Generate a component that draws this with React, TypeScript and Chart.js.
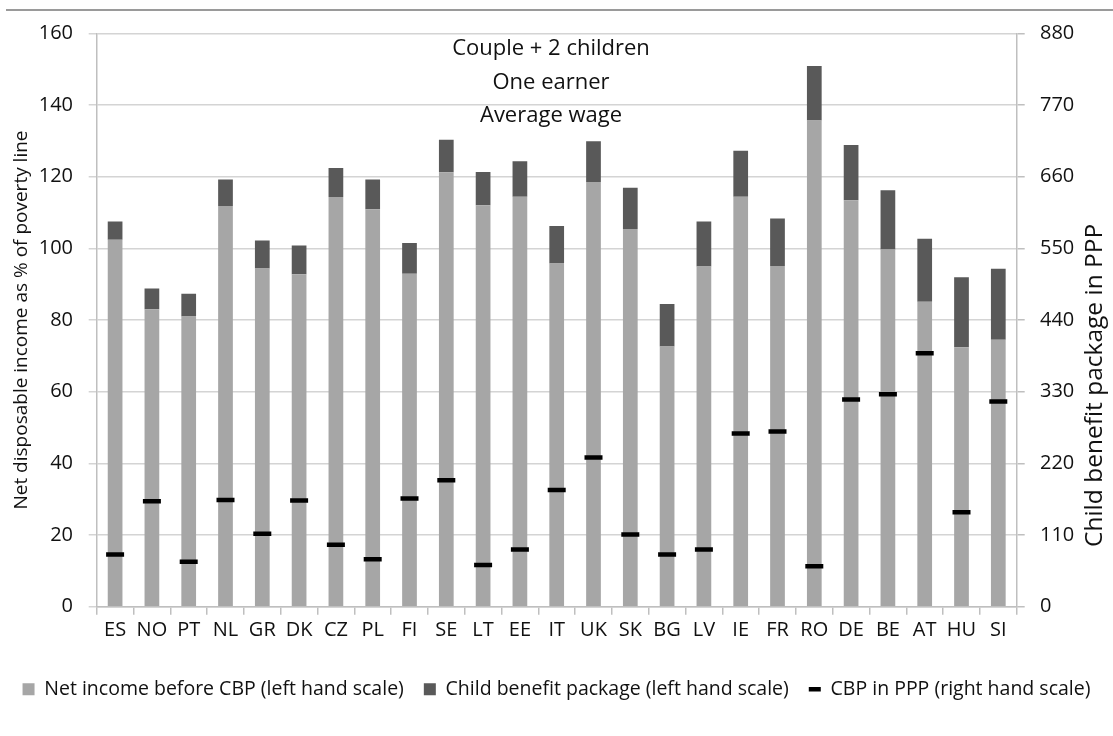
import React, { useEffect, useRef } from "react";
import { Chart, registerables } from "chart.js";

Chart.register(...registerables);

const categories = ["ES", "NO", "PT", "NL", "GR", "DK", "CZ", "PL", "FI", "SE", "LT", "EE", "IT", "UK", "SK", "BG", "LV", "IE", "FR", "RO", "DE", "BE", "AT", "HU", "SI"];
const netIncome = [102.4, 83.0, 81.0, 111.8, 94.4, 92.8, 114.3, 110.9, 92.9, 121.2, 112.0, 114.4, 95.8, 118.5, 105.4, 72.6, 94.9, 114.4, 95.1, 135.7, 113.4, 99.7, 85.1, 72.4, 74.5];
const childBenefit = [5.1, 5.8, 6.3, 7.4, 7.8, 8.0, 8.1, 8.3, 8.6, 9.1, 9.3, 9.9, 10.4, 11.4, 11.5, 11.9, 12.6, 12.8, 13.2, 15.2, 15.4, 16.5, 17.6, 19.5, 19.8];
const cbpPPP = [80, 162, 69, 164, 112, 163, 95, 73, 166, 194, 64, 88, 179, 229, 111, 80, 88, 266, 269, 62, 318, 326, 389, 145, 315];

const seriesLabels = [
  "Net income before CBP (left hand scale)",
  "Child benefit package (left hand scale)",
  "CBP in PPP (right hand scale)",
];
const titleLines = ["Couple + 2 children", "One earner", "Average wage"];
const leftAxisTitle = "Net disposable income as % of poverty line";
const rightAxisTitle = "Child benefit package in PPP";

const FONT = "'Open Sans', 'DejaVu Sans', sans-serif";
const TEXT = "#111111";

const decorPlugin = {
  id: "decor",
  beforeDraw(chart: any) {
    const ctx = chart.ctx;
    ctx.save();
    ctx.strokeStyle = "#9a9a9a";
    ctx.lineWidth = 2;
    ctx.beginPath();
    ctx.moveTo(6, 10);
    ctx.lineTo(chart.width, 10);
    ctx.stroke();
    ctx.restore();
  },
  afterDraw(chart: any) {
    const ctx = chart.ctx;
    const a = chart.chartArea;
    ctx.save();
    ctx.fillStyle = TEXT;
    ctx.textAlign = "center";
    ctx.textBaseline = "alphabetic";
    ctx.font = `22px ${FONT}`;
    const cx = a.left + (a.right - a.left) * 0.4938;
    const offs = [21.7, 55.2, 88.5];
    titleLines.forEach((t, i) => ctx.fillText(t, cx, a.top + offs[i]));

    ctx.textBaseline = "middle";
    ctx.font = `19px ${FONT}`;
    ctx.save();
    ctx.translate(22, (a.top + a.bottom) / 2);
    ctx.rotate(-Math.PI / 2);
    ctx.fillText(leftAxisTitle, 0, 0);
    ctx.restore();

    ctx.font = `24.5px ${FONT}`;
    ctx.save();
    ctx.translate(1095, a.top + (a.bottom - a.top) * 0.614);
    ctx.rotate(-Math.PI / 2);
    ctx.fillText(rightAxisTitle, 0, 0);
    ctx.restore();
    ctx.restore();
  },
};

export default function App() {
  const ref = useRef<HTMLCanvasElement | null>(null);

  useEffect(() => {
    if (!ref.current) return;
    const chart = new Chart(ref.current, {
      type: "bar",
      data: {
        labels: categories,
        datasets: [
          {
            type: "bar",
            label: seriesLabels[0],
            data: netIncome,
            backgroundColor: "#a6a6a6",
            borderWidth: 0,
            yAxisID: "y",
            stack: "s",
            barPercentage: 0.4,
            categoryPercentage: 1,
            pointStyle: "rect",
            order: 2,
          },
          {
            type: "bar",
            label: seriesLabels[1],
            data: childBenefit,
            backgroundColor: "#595959",
            borderWidth: 0,
            yAxisID: "y",
            stack: "s",
            barPercentage: 0.4,
            categoryPercentage: 1,
            pointStyle: "rect",
            order: 2,
          },
          {
            type: "line",
            label: seriesLabels[2],
            data: cbpPPP,
            yAxisID: "y1",
            showLine: false,
            pointStyle: "line",
            pointRadius: 9,
            pointHoverRadius: 9,
            pointBorderWidth: 4.5,
            borderWidth: 4.5,
            borderColor: "#000000",
            backgroundColor: "#000000",
            pointBorderColor: "#000000",
            order: 0,
          } as any,
        ],
      },
      options: {
        responsive: false,
        animation: false,
        devicePixelRatio: 1,
        events: [],
        layout: { padding: { top: 33.3, left: 0, right: 0, bottom: 27 } },
        plugins: {
          tooltip: { enabled: false },
          title: { display: false },
          legend: {
            position: "bottom",
            labels: {
              usePointStyle: true,
              boxWidth: 12,
              boxHeight: 12,
              pointStyleWidth: 12,
              padding: 20,
              color: TEXT,
              font: { family: FONT, size: 19.5 },
              sort: (a: any, b: any) => a.datasetIndex - b.datasetIndex,
            },
          },
        },
        scales: {
          x: {
            stacked: true,
            offset: true,
            grid: {
              offset: true,
              drawOnChartArea: false,
              tickLength: 8,
              color: "#bfbfbf",
              lineWidth: 1.5,
            },
            border: { color: "#bfbfbf", width: 1.5 },
            ticks: {
              autoSkip: false,
              maxRotation: 0,
              padding: 3.5,
              color: TEXT,
              font: { family: FONT, size: 20 },
            },
            afterFit: (s: any) => {
              s.height = 52.75;
            },
          },
          y: {
            stacked: true,
            position: "left",
            min: 0,
            max: 160,
            ticks: {
              stepSize: 20,
              padding: 15.7,
              color: TEXT,
              font: { family: FONT, size: 20 },
            },
            grid: { color: "#d4d4d4", lineWidth: 1.5, tickLength: 8 },
            border: { color: "#bfbfbf", width: 1.5 },
            afterFit: (s: any) => {
              s.width = 96.7;
            },
          },
          y1: {
            position: "right",
            min: 0,
            max: 880,
            ticks: {
              stepSize: 110,
              padding: 15.3,
              color: TEXT,
              font: { family: FONT, size: 20 },
            },
            grid: { drawOnChartArea: false, color: "#bfbfbf", lineWidth: 1.5, tickLength: 8 },
            border: { color: "#bfbfbf", width: 1.5 },
            afterFit: (s: any) => {
              s.width = 96.3;
            },
          },
        },
      },
      plugins: [decorPlugin],
    });
    return () => chart.destroy();
  }, []);

  return (
    <div style={{ position: "absolute", left: 0, top: 0, width: 1113, height: 736, background: "#ffffff" }}>
      <canvas ref={ref} width={1113} height={736} style={{ width: 1113, height: 736, display: "block" }} />
    </div>
  );
}
